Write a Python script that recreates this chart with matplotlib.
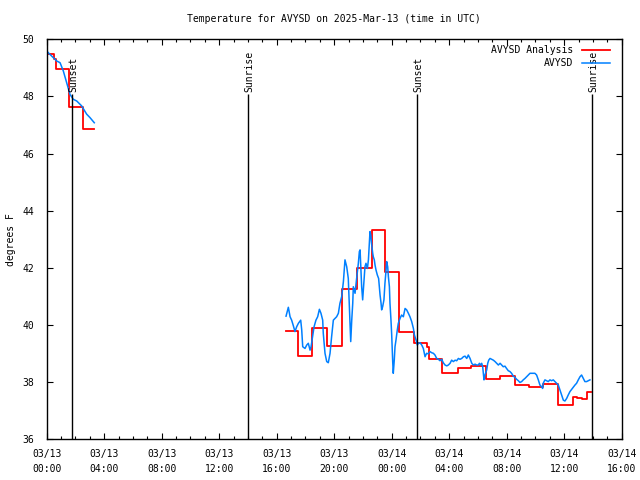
import matplotlib
matplotlib.use("Agg")
import matplotlib.pyplot as plt
from matplotlib.ticker import MultipleLocator

# hours since 2025-03-13 00:00 UTC
obs_hours_1 = [0.0, 0.23, 0.70, 0.93, 1.15, 1.39, 1.62, 1.85, 2.09, 2.43, 2.78, 3.01, 3.31]
obs_temp_1 = [49.59, 49.47, 49.24, 49.18, 48.90, 48.48, 48.07, 47.90, 47.84, 47.67, 47.38, 47.26, 47.08]

obs_hours_2 = [
    16.65, 16.81, 16.93, 17.04, 17.16, 17.27, 17.39, 17.51, 17.67, 17.74,
    17.81, 17.97, 18.09, 18.20, 18.32, 18.39, 18.48, 18.60, 18.73, 18.85,
    18.97, 19.08, 19.20, 19.24, 19.36, 19.48, 19.59, 19.71, 19.82, 19.94,
    20.06, 20.17, 20.29, 20.40, 20.52, 20.64, 20.75, 20.87, 20.98, 21.05,
    21.10, 21.15, 21.22, 21.29, 21.33, 21.45, 21.56, 21.68, 21.75, 21.80,
    21.84, 21.91, 21.98, 22.07, 22.14, 22.21, 22.31, 22.38, 22.44, 22.49,
    22.54, 22.61, 22.68, 22.72, 22.79, 22.84, 22.91, 23.00, 23.09, 23.14,
    23.19, 23.26, 23.30, 23.37, 23.46, 23.53, 23.60, 23.65, 23.72, 23.77,
    23.84, 23.88, 23.95, 24.00, 24.07, 24.11, 24.18, 24.23, 24.30, 24.39,
    24.46, 24.58, 24.69, 24.81, 24.93, 25.04, 25.16, 25.27, 25.39, 25.51,
    25.58, 25.69, 25.78, 25.86, 25.97, 26.09, 26.20, 26.32, 26.43, 26.55,
    26.67, 26.78, 26.90, 27.01, 27.13, 27.25, 27.36, 27.48, 27.59, 27.71,
    27.83, 27.94, 28.06, 28.17, 28.29, 28.41, 28.52, 28.64, 28.75, 28.87,
    28.99, 29.10, 29.22, 29.33, 29.45, 29.57, 29.68, 29.80, 29.91, 30.03,
    30.10, 30.19, 30.26, 30.33, 30.42, 30.49, 30.61, 30.68, 30.75, 30.84,
    30.96, 31.07, 31.19, 31.30, 31.42, 31.54, 31.76, 31.88, 31.99, 32.11,
    32.23, 32.34, 32.46, 32.57, 32.69, 32.81, 32.92, 33.04, 33.15, 33.27,
    33.39, 33.50, 33.62, 33.96, 34.08, 34.20, 34.31, 34.43, 34.50, 34.54,
    34.66, 34.78, 34.89, 35.01, 35.12, 35.24, 35.36, 35.47, 35.59, 35.70,
    35.82, 35.94, 36.05, 36.17, 36.28, 36.40, 36.52, 36.63, 36.75, 36.86,
    36.98, 37.10, 37.21, 37.33, 37.44, 37.56, 37.67, 37.79,
]
obs_temp_2 = [
    40.31, 40.62, 40.29, 40.17, 39.97, 39.77, 39.94, 40.06, 40.17, 39.83,
    39.24, 39.18, 39.30, 39.36, 39.12, 39.24, 39.53, 39.94, 40.17, 40.29,
    40.55, 40.41, 40.17, 39.71, 39.01, 38.72, 38.68, 39.01, 39.59, 40.17,
    40.23, 40.29, 40.41, 40.76, 40.99, 41.52, 42.28, 42.04, 41.63, 40.76,
    40.06, 39.42, 40.17, 40.76, 41.34, 41.11, 41.63, 42.16, 42.57, 42.63,
    42.16, 41.34, 40.88, 41.52, 42.04, 42.16, 41.98, 42.28, 42.86, 43.27,
    43.15, 42.80, 42.51, 42.39, 42.28, 42.10, 41.92, 41.75, 41.63, 41.34,
    41.05, 40.76, 40.53, 40.64, 40.88, 41.46, 41.87, 42.22, 42.04, 41.69,
    41.34, 40.76, 40.17, 39.65, 38.72, 38.31, 38.78, 39.24, 39.48, 39.83,
    40.06, 40.23, 40.35, 40.29, 40.58, 40.53, 40.41, 40.29, 40.12, 39.88,
    39.65, 39.48, 39.30, 39.36, 39.38, 39.30, 39.18, 38.89, 39.01, 38.99,
    39.07, 39.03, 39.01, 38.95, 38.83, 38.80, 38.75, 38.80, 38.68, 38.60,
    38.57, 38.60, 38.66, 38.77, 38.72, 38.77, 38.75, 38.83, 38.80, 38.83,
    38.89, 38.91, 38.83, 38.95, 38.83, 38.66, 38.60, 38.63, 38.60, 38.60,
    38.66, 38.60, 38.66, 38.54, 38.08, 38.25, 38.43, 38.66, 38.77, 38.83,
    38.80, 38.77, 38.72, 38.66, 38.60, 38.66, 38.54, 38.56, 38.48, 38.40,
    38.37, 38.31, 38.21, 38.17, 38.10, 38.05, 37.99, 38.02, 38.08, 38.13,
    38.19, 38.25, 38.31, 38.31, 38.25, 38.08, 37.90, 37.84, 37.78, 37.96,
    38.08, 38.05, 38.02, 38.08, 38.05, 38.08, 38.02, 37.96, 37.90, 37.73,
    37.55, 37.37, 37.34, 37.43, 37.55, 37.67, 37.75, 37.82, 37.90, 37.96,
    38.08, 38.19, 38.25, 38.13, 38.02, 38.02, 38.05, 38.08,
]

# analysis steps: start hour of each step and its value (last entry = end)
ana_hours_1 = [0.0, 0.51, 0.65, 1.57, 2.50, 3.31]
ana_temp_1 = [49.50, 49.32, 48.95, 47.64, 46.87, 46.87]

ana_hours_2 = [16.65, 17.50, 18.48, 19.48, 20.52, 21.57, 22.65, 23.53, 24.51, 25.57,
               26.43, 26.62, 27.53, 28.61, 29.52, 30.56, 31.53, 32.57, 33.55, 34.55,
               35.59, 36.61, 36.89, 37.24, 37.61, 37.87]
ana_temp_2 = [39.78, 38.91, 39.88, 39.27, 41.25, 41.98, 43.33, 41.87, 39.74, 39.36,
              39.24, 38.80, 38.32, 38.48, 38.56, 38.10, 38.20, 37.90, 37.84, 37.93,
              37.20, 37.47, 37.43, 37.41, 37.65, 37.65]

sun_hours = [1.76, 14.00, 25.78, 37.95]
sun_labels = ["Sunset", "Sunrise", "Sunset", "Sunrise"]

x_ticks = [0, 4, 8, 12, 16, 20, 24, 28, 32, 36, 40]
x_tick_labels = ["03/13\n00:00", "03/13\n04:00", "03/13\n08:00", "03/13\n12:00",
                 "03/13\n16:00", "03/13\n20:00", "03/14\n00:00", "03/14\n04:00",
                 "03/14\n08:00", "03/14\n12:00", "03/14\n16:00"]

RED = "#ff0000"
BLUE = "#0080ff"

plt.rcParams["font.family"] = "DejaVu Sans Mono"
plt.rcParams["font.size"] = 7

fig = plt.figure(figsize=(6.4, 4.8), dpi=100)
ax = fig.add_axes([46.7 / 640, 40.7 / 480, 575 / 640, 400 / 480])

ax.plot(ana_hours_1, ana_temp_1, drawstyle="steps-post", color=RED, lw=1.3,
        label="AVYSD Analysis")
ax.plot(ana_hours_2, ana_temp_2, drawstyle="steps-post", color=RED, lw=1.3)
ax.plot(obs_hours_1, obs_temp_1, color=BLUE, lw=1.1, label="AVYSD")
ax.plot(obs_hours_2, obs_temp_2, color=BLUE, lw=1.1)

for h, lab in zip(sun_hours, sun_labels):
    ax.vlines(h, 36, 48.1, color="black", lw=1.0)
    ax.text(h + 0.1, 48.15, lab, rotation=90, ha="center", va="bottom")

ax.set_xlim(0, 40)
ax.set_ylim(36, 50)
ax.set_xticks(x_ticks)
ax.set_xticklabels(x_tick_labels, linespacing=1.6)
ax.xaxis.set_minor_locator(MultipleLocator(1))
ax.set_yticks(range(36, 51, 2))
ax.tick_params(which="both", direction="in", top=True, right=True, color="black")
ax.tick_params(which="major", length=4.5, width=0.8)
ax.tick_params(axis="x", which="major", pad=7)
ax.tick_params(axis="y", which="major", pad=9)
ax.tick_params(which="minor", length=2.5, width=0.8)
for s in ax.spines.values():
    s.set_linewidth(1.0)

ax.set_ylabel("degrees F", labelpad=5)
fig.text(334 / 640, 1 - 19 / 480, "Temperature for AVYSD on 2025-Mar-13 (time in UTC)",
         ha="center", va="center")

ax.legend(loc="upper right", bbox_to_anchor=(610 / 640, 1 - 45 / 480),
          bbox_transform=fig.transFigure, frameon=False, markerfirst=False,
          handlelength=2.9, handletextpad=0.9, labelspacing=0.3,
          borderpad=0, borderaxespad=0)

fig.savefig("out.png", dpi=100)
